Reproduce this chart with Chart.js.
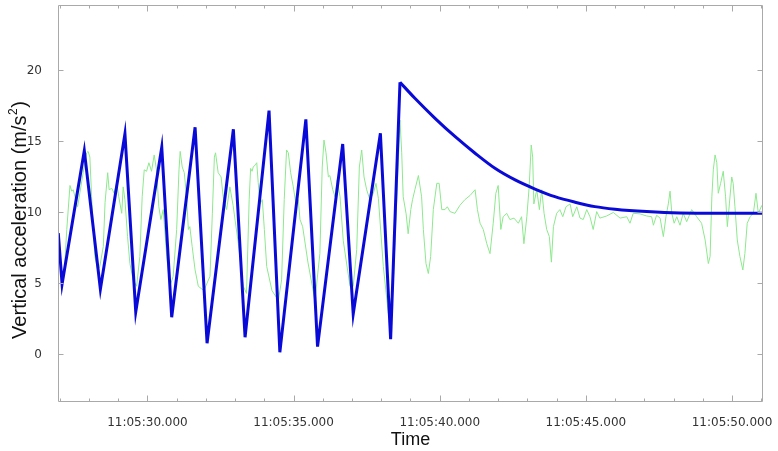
<!DOCTYPE html>
<html>
<head>
<meta charset="utf-8">
<script src="https://cdn.jsdelivr.net/npm/chart.js@4/dist/chart.umd.min.js"></script>
<style>
  html, body { margin: 0; padding: 0; background: #fff; }
  #wrap { width: 778px; height: 451px; }
</style>
</head>
<body>
<div id="wrap"><canvas id="c" width="778" height="451"></canvas></div>
<script>
// times are seconds after 11:05:00
const sawT = [26.95, 27.08, 27.84, 28.39, 29.23, 29.60, 30.49, 30.83, 31.63, 32.04,
  32.94, 33.34, 34.16, 34.53, 35.42, 35.82, 36.68, 37.04, 37.97, 38.32, 38.64];
const sawV = [8.54, 4.96, 14.35, 4.59, 15.53, 2.99, 14.59, 2.62, 16.0, 0.79,
  15.86, 1.21, 17.17, 0.15, 16.56, 0.55, 14.82, 2.85, 15.58, 1.07, 19.17];
const decayT = [38.64, 39.15, 39.84, 40.52, 41.21, 41.89, 42.58, 43.26, 43.94, 44.63,
  45.31, 46.0, 47.08, 48.22, 49.59, 51.06];
const decayV = [19.17, 18.04, 16.63, 15.35, 14.17, 13.11, 12.29, 11.65, 11.11, 10.72,
  10.41, 10.23, 10.06, 9.96, 9.94, 9.94];

const greenT = [27.07, 27.15, 27.24, 27.35, 27.41, 27.46, 27.61, 27.69, 27.80, 27.92,
  27.97, 28.03, 28.09, 28.15, 28.20, 28.30, 28.37, 28.49, 28.55, 28.64,
  28.69, 28.78, 28.86, 28.95, 29.02, 29.12, 29.17, 29.23, 29.32, 29.40,
  29.51, 29.63, 29.74, 29.82, 29.89, 29.97, 30.05, 30.14, 30.23, 30.31,
  30.39, 30.46, 30.54, 30.66, 30.77, 30.88, 31.00, 31.08, 31.12, 31.19,
  31.26, 31.34, 31.40, 31.45, 31.53, 31.63, 31.74, 31.93, 32.14, 32.22,
  32.29, 32.33, 32.42, 32.52, 32.59, 32.71, 32.82, 32.93, 33.11, 33.28,
  33.39, 33.48, 33.53, 33.58, 33.62, 33.69, 33.74, 33.79, 33.85, 33.93,
  34.00, 34.08, 34.26, 34.48, 34.59, 34.68, 34.76, 34.82, 34.90, 34.99,
  35.08, 35.16, 35.22, 35.31, 35.49, 35.73, 35.90, 35.98, 36.04, 36.11,
  36.19, 36.24, 36.34, 36.42, 36.49, 36.59, 36.70, 36.93, 37.04, 37.16,
  37.25, 37.33, 37.41, 37.50, 37.61, 37.73, 37.82, 37.90, 38.07, 38.24,
  38.40, 38.53, 38.64, 38.70, 38.75, 38.85, 38.92, 39.01, 39.07, 39.15,
  39.27, 39.38, 39.44, 39.53, 39.61, 39.69, 39.78, 39.90, 39.98, 40.07,
  40.18, 40.26, 40.35, 40.52, 40.69, 40.86, 41.04, 41.21, 41.29, 41.38,
  41.49, 41.61, 41.72, 41.83, 41.92, 42.00, 42.09, 42.17, 42.29, 42.40,
  42.54, 42.69, 42.80, 42.88, 42.98, 43.06, 43.13, 43.18, 43.22, 43.32,
  43.41, 43.49, 43.57, 43.66, 43.75, 43.82, 43.89, 44.00, 44.11, 44.21,
  44.32, 44.46, 44.55, 44.69, 44.80, 44.91, 45.03, 45.14, 45.25, 45.37,
  45.48, 45.71, 45.94, 46.17, 46.40, 46.51, 46.62, 46.85, 47.08, 47.25,
  47.31, 47.42, 47.54, 47.65, 47.74, 47.82, 47.88, 47.94, 48.02, 48.11,
  48.22, 48.33, 48.45, 48.62, 48.79, 48.96, 49.08, 49.19, 49.25, 49.31,
  49.36, 49.42, 49.48, 49.53, 49.61, 49.70, 49.78, 49.84, 49.91, 49.99,
  50.04, 50.10, 50.18, 50.27, 50.37, 50.44, 50.52, 50.62, 50.73, 50.82,
  50.90, 51.02];
const greenV = [5.5, 5.6, 8.8, 11.9, 11.5, 11.6, 10.4, 11.4, 12.8, 14.2,
  14.3, 13.9, 11.1, 8.8, 6.9, 5.95, 6.2, 7.6, 10.7, 12.8,
  11.6, 11.7, 11.35, 12.06, 11.1, 9.94, 11.8, 10.9, 8.3, 6.4,
  5.25, 4.8, 6.9, 11.1, 13.0, 12.9, 13.5, 12.9, 14.05, 13.0,
  10.4, 9.5, 10.2, 6.9, 4.8, 5.5, 8.8, 13.0, 14.3, 13.2,
  12.8, 11.1, 8.8, 9.0, 7.6, 5.95, 4.8, 4.5, 5.5, 9.9,
  13.9, 14.2, 12.8, 12.5, 11.1, 10.2, 11.8, 10.5, 7.8, 4.8,
  4.3, 10.9, 13.1, 12.9, 13.2, 13.35, 13.5, 12.1, 10.6, 10.9,
  8.8, 6.2, 4.5, 3.8, 5.25, 10.9, 14.4, 14.2, 12.8, 11.8,
  10.6, 10.9, 9.5, 9.0, 6.5, 3.8, 7.1, 13.2, 15.1, 14.2,
  12.5, 12.6, 11.6, 11.1, 12.3, 11.1, 8.0, 4.8, 4.8, 7.4,
  13.2, 14.4, 12.5, 11.6, 10.9, 11.35, 12.05, 11.0, 6.2, 2.9,
  4.5, 10.9, 16.5, 14.2, 11.1, 9.9, 8.5, 10.2, 10.9, 11.6,
  12.6, 11.1, 8.8, 6.4, 5.7, 6.9, 10.2, 12.05, 12.05, 10.2,
  10.2, 10.4, 10.06, 9.94, 10.5, 10.9, 11.2, 11.6, 10.2, 9.24,
  8.8, 7.8, 7.1, 9.24, 11.35, 11.9, 8.8, 9.7, 9.94, 9.5,
  9.6, 9.24, 9.7, 7.8, 9.7, 11.8, 14.75, 13.9, 10.6, 11.6,
  10.2, 11.6, 9.94, 8.8, 8.3, 6.5, 9.0, 9.94, 10.2, 9.7,
  10.4, 10.6, 9.7, 10.4, 9.6, 9.5, 10.2, 9.7, 8.8, 10.06,
  9.6, 9.75, 10.0, 9.6, 9.7, 9.24, 9.94, 9.9, 9.75, 9.7,
  9.1, 9.8, 9.6, 8.3, 9.7, 10.6, 11.5, 9.94, 9.24, 9.7,
  9.1, 9.94, 9.35, 10.2, 9.7, 9.24, 8.06, 6.4, 6.9, 11.1,
  13.0, 14.05, 13.5, 11.35, 12.05, 12.9, 11.1, 9.0, 10.6, 12.5,
  12.05, 10.4, 8.06, 6.9, 5.95, 7.1, 9.24, 9.7, 9.94, 11.35,
  9.94, 10.5];

const xTicks = [30, 35, 40, 45, 50];
const xLabels = ['11:05:30.000', '11:05:35.000', '11:05:40.000', '11:05:45.000', '11:05:50.000'];
const yTicks = [0, 5, 10, 15, 20];

const pts = (t, v) => t.map((x, i) => ({ x, y: v[i] }));

// frame, inward tick marks on all four sides, and the y title with a real superscript
const frame = {
  id: 'frame',
  afterDraw(c) {
    const { ctx, scales: { x, y } } = c;
    const L = Math.round(x.getPixelForValue(x.min)) + .5, R = Math.round(x.getPixelForValue(x.max)) - .5;
    const T = Math.round(y.getPixelForValue(y.max)) + .5, B = Math.round(y.getPixelForValue(y.min)) - .5;
    ctx.save();
    ctx.strokeStyle = '#a9a9a9'; ctx.lineWidth = 1;
    ctx.beginPath();
    ctx.rect(L, T, R - L, B - T);
    for (let s = Math.ceil(x.min); s <= Math.floor(x.max); s++) {
      const px = Math.round(x.getPixelForValue(s)) + .5;
      const len = s % 5 === 0 ? 6 : 3;
      ctx.moveTo(px, B); ctx.lineTo(px, B - len);
      ctx.moveTo(px, T); ctx.lineTo(px, T + len);
    }
    for (const v of yTicks) {
      const py = Math.round(y.getPixelForValue(v)) + .5;
      ctx.moveTo(L, py); ctx.lineTo(L + 5, py);
      ctx.moveTo(R, py); ctx.lineTo(R - 5, py);
    }
    ctx.stroke();

    const main = 'Vertical acceleration (m/s', sup = '2', tail = ')';
    const big = '20px "Liberation Sans"', small = '12px "Liberation Sans"';
    ctx.font = big; const w1 = ctx.measureText(main).width, w3 = ctx.measureText(tail).width;
    ctx.font = small; const w2 = ctx.measureText(sup).width;
    const total = w1 + w2 + w3 + 1;
    ctx.translate(26, 220); ctx.rotate(-Math.PI / 2);
    ctx.fillStyle = '#111'; ctx.textBaseline = 'alphabetic'; ctx.textAlign = 'left';
    let sx = -total / 2;
    ctx.font = big; ctx.fillText(main, sx, 0); sx += w1;
    ctx.font = small; ctx.fillText(sup, sx + .5, -9); sx += w2 + 1;
    ctx.font = big; ctx.fillText(tail, sx, 0);
    ctx.restore();
  }
};

new Chart(document.getElementById('c'), {
  type: 'line',
  data: {
    datasets: [
      { data: pts(sawT, sawV), borderColor: '#0a0ad8', borderWidth: 3, pointRadius: 0, tension: 0, order: 1 },
      { data: pts(decayT, decayV), borderColor: '#0a0ad8', borderWidth: 3, pointRadius: 0,
        cubicInterpolationMode: 'monotone', order: 1 },
      { data: pts(greenT, greenV), borderColor: '#8ee88e', borderWidth: 1, pointRadius: 0, tension: 0, order: 2 },
    ]
  },
  options: {
    responsive: false, animation: false, devicePixelRatio: 1,
    layout: { padding: { top: 5, right: 15, left: 0, bottom: 0 } },
    plugins: { legend: { display: false }, tooltip: { enabled: false } },
    scales: {
      x: {
        type: 'linear', min: 26.94, max: 51.06,
        afterFit: s => { s.height = 49; s.paddingLeft = 0; s.paddingRight = 0; },
        afterBuildTicks: s => { s.ticks = xTicks.map(v => ({ value: v })); },
        grid: { display: false }, border: { display: false },
        ticks: { autoSkip: false, maxRotation: 0, padding: 6, color: '#333',
          font: { family: 'DejaVu Sans', size: 12 },
          callback: v => xLabels[xTicks.indexOf(v)] ?? '' },
        title: { display: true, text: 'Time', color: '#111', padding: { top: 0, bottom: 0 },
          font: { family: 'Liberation Sans', size: 18 } }
      },
      y: {
        min: -3.35, max: 24.61,
        afterFit: s => { s.width = 58; s.paddingTop = 0; s.paddingBottom = 0; },
        afterBuildTicks: s => { s.ticks = yTicks.map(v => ({ value: v })); },
        grid: { display: false }, border: { display: false },
        ticks: { padding: 8, color: '#333', font: { family: 'DejaVu Sans', size: 12 } }
      }
    }
  },
  plugins: [frame]
});
</script>
</body>
</html>
